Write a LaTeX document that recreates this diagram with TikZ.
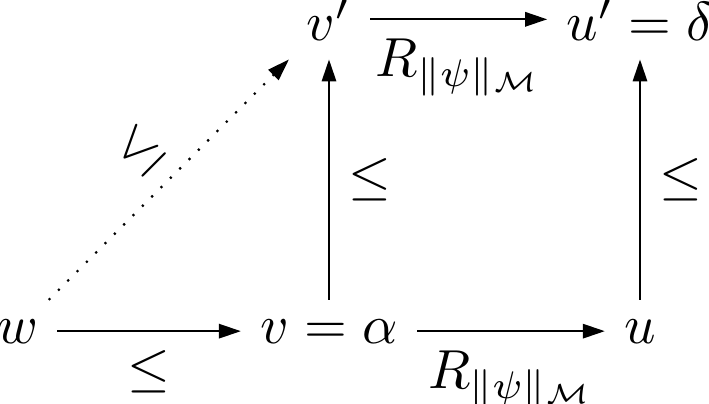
\documentclass[tikz,border=0pt]{standalone}
\usetikzlibrary{arrows.meta}
\begin{document}
\begin{tikzpicture}[x=0.1818pt,y=-0.1818pt,
  obj/.style={anchor=base},
  arr/.style={line width=0.4pt,-{Triangle[length=4pt,width=2.6pt]}}]
\useasboundingbox (0,0) rectangle (709,404);
\node[obj] (w)  at (17.5,343) {$w$};
\node[obj] (v)  at (329,343) {$v=\alpha$};
\node[obj] (u)  at (640,343) {$u$};
\node[obj] (vp) at (329,40) {$v'$};
\node[obj] (up) at (640,40) {$u'=\delta$};
\draw[arr] (w) -- node[below] {$\leq$} (v);
\draw[arr] (v) -- node[below] {$R_{\|\psi\|_{\mathcal{M}}}$} (u);
\draw[arr] (vp) -- node[below] {$R_{\|\psi\|_{\mathcal{M}}}$} (up);
\draw[arr] (v) -- node[right] {$\leq$} (vp);
\draw[arr] (u) -- node[right] {$\leq$} (up);
\draw[arr,dotted] (w) -- node[above,sloped] {$\leq$} (vp);
\end{tikzpicture}
\end{document}
